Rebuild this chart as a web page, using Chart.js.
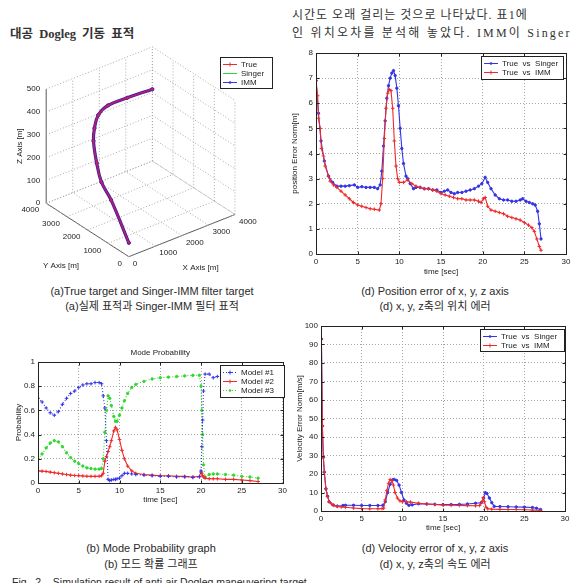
<!DOCTYPE html>
<html>
<head>
<meta charset="utf-8">
<script src="https://cdn.jsdelivr.net/npm/chart.js@4.4.1/dist/chart.umd.min.js"></script>
<style>
html, body { margin: 0; padding: 0; background: #fff; }
#page { position: relative; width: 574px; height: 583px; overflow: hidden; color: #222; }
#page canvas { position: absolute; }
.body { position: absolute; white-space: nowrap; font-family: "Liberation Serif", "Noto Sans CJK KR", serif; font-size: 12px; line-height: 14px; letter-spacing: 1px; color: #333; }
.cap { position: absolute; width: 300px; text-align: center; white-space: nowrap; font-family: "Liberation Sans", Arial, "Noto Sans CJK KR", sans-serif; font-size: 11px; line-height: 13px; color: #2a2a2a; }
</style>
</head>
<body>
<div id="page">
  <div class="body" style="left:292px;top:8px;">시간도 오래 걸리는 것으로 나타났다. 표1에</div>
  <div class="body" style="left:292px;top:26px;letter-spacing:2.2px;">인 위치오차를 분석해 놓았다. IMM이 Singer</div>
  <div class="body" style="left:10px;top:27px;letter-spacing:0;word-spacing:3px;font-weight:bold;font-size:12.5px;">대공 Dogleg 기동 표적</div>

  <canvas id="c3d"></canvas>
  <canvas id="cPos"></canvas>
  <canvas id="cMode"></canvas>
  <canvas id="cVel"></canvas>

  <div class="cap" style="left:2px;top:285px;">(a)True target and Singer-IMM filter target</div>
  <div class="cap" style="left:2px;top:300px;">(a)실제 표적과 Singer-IMM 필터 표적</div>
  <div class="cap" style="left:285px;top:285px;">(d) Position error of x, y, z axis</div>
  <div class="cap" style="left:285px;top:300px;">(d) x, y, z축의 위치 에러</div>
  <div class="cap" style="left:1px;top:542px;">(b) Mode Probability graph</div>
  <div class="cap" style="left:1px;top:558px;">(b) 모드 확률 그래프</div>
  <div class="cap" style="left:285px;top:542px;">(d) Velocity error of x, y, z axis</div>
  <div class="cap" style="left:285px;top:558px;">(d) x, y, z축의 속도 에러</div>
  <div class="cap" style="left:12px;top:576px;width:auto;text-align:left;font-size:10.5px;">Fig.&nbsp; 2.&nbsp;&nbsp; Simulation result of anti-air Dogleg maneuvering target</div>
</div>

<script>
// ---- data ----

// (a) 3D trajectory [m]; True, Singer and IMM lie on top of each other
const trajX = [500, 500, 500, 500, 500, 573, 718, 1082, 1809, 2755];
const trajY = [642, 1498, 1965, 2199, 2353, 2400, 2400, 2400, 2400, 2400];
const trajZ = [0, 137, 188, 259, 346, 396, 447, 472, 472, 466];
const ticks3dX = [0, 1000, 2000, 3000, 4000];
const ticks3dY = [0, 1000, 2000, 3000, 4000];
const ticks3dZ = [0, 100, 200, 300, 400, 500];

// (d) position error norm [m]
const posSingerT = [0, 0.3, 0.6, 1.0, 1.5, 2.0, 2.5, 3.0, 3.5, 4.0, 4.6, 5.0, 5.5, 6.0, 6.5, 7.0, 7.4,
  7.7, 7.9, 8.1, 8.3, 8.5, 8.7, 8.9, 9.1, 9.3, 9.5, 9.7, 9.9, 10.1, 10.3, 10.5, 10.8, 11.0, 11.3, 11.7, 12.0,
  12.5, 13.0, 13.5, 14.0, 14.5, 15.0, 15.4, 15.8, 16.2, 16.6, 17.0, 17.5, 18.0, 18.5, 19.0, 19.5, 19.9, 20.3,
  20.6, 21.0, 21.5, 22.0, 22.5, 23.0, 23.5, 24.0, 24.5, 24.8, 25.2, 25.6, 26.0, 26.3, 26.6, 26.8, 27.0];
const posSinger = [6.9, 5.6, 4.5, 3.7, 3.1, 2.85, 2.7, 2.7, 2.7, 2.72, 2.75, 2.65, 2.68, 2.65, 2.65, 2.65, 2.6,
  2.75, 3.3, 4.3, 5.3, 6.2, 6.7, 7.0, 7.2, 7.3, 7.1, 6.6, 5.9, 5.0, 4.2, 3.6, 3.1, 3.0, 2.8, 2.6, 2.65,
  2.65, 2.6, 2.6, 2.55, 2.55, 2.45, 2.5, 2.55, 2.45, 2.4, 2.45, 2.45, 2.5, 2.55, 2.6, 2.7, 2.8, 3.05,
  2.85, 2.6, 2.35, 2.2, 2.15, 2.15, 2.1, 2.1, 2.15, 2.2, 2.1, 2.05, 2.0, 1.95, 1.7, 1.2, 0.6];
const posImmT = [0, 0.2, 0.3, 0.5, 0.65, 0.9, 1.1, 1.5, 1.7, 2.1, 2.5, 3.0, 3.5, 4.0, 4.5, 5.0, 5.5, 6.0, 6.5,
  7.0, 7.6, 7.8, 8.0, 8.2, 8.4, 8.6, 8.8, 9.0, 9.2, 9.4, 9.6, 9.8, 10.0, 10.5, 11.0, 11.5, 12.0, 12.5, 13.0,
  13.5, 14.0, 14.5, 15.0, 15.5, 16.0, 16.5, 17.0, 17.5, 18.0, 18.5, 19.0, 19.5, 19.8, 20.1, 20.3, 20.6, 21.0,
  21.5, 22.0, 22.5, 23.0, 23.5, 24.0, 24.5, 25.0, 25.5, 25.9, 26.2, 26.5, 26.8, 27.0];
const posImm = [6.9, 6.3, 5.4, 5.0, 4.2, 3.9, 3.5, 3.1, 2.9, 2.75, 2.65, 2.5, 2.35, 2.2, 2.05, 1.95, 1.9, 1.85, 1.8,
  1.78, 1.75, 2.0, 3.0, 4.6, 5.8, 6.4, 6.55, 6.5, 5.8, 4.5, 3.5, 3.0, 2.85, 2.85, 2.95, 2.8, 2.7, 2.65, 2.6,
  2.6, 2.55, 2.5, 2.4, 2.35, 2.3, 2.25, 2.2, 2.2, 2.15, 2.15, 2.15, 2.1, 2.05, 2.2, 2.25, 1.9, 1.75,
  1.7, 1.65, 1.6, 1.5, 1.45, 1.4, 1.35, 1.25, 1.15, 1.05, 0.9, 0.6, 0.3, 0.15];

// (b) mode probability
const modeT = [0, 0.5, 1, 1.5, 2, 2.5, 3, 3.5, 4, 4.5, 5, 5.5, 6, 6.5, 7, 7.5,
  7.8, 8.0, 8.2, 8.4, 8.6, 8.8, 9.0, 9.3, 9.5, 9.7, 10.0, 10.3, 10.6, 11.0, 11.5, 12,
  13, 14, 15, 16, 17, 18, 19, 19.8, 20.0, 20.1, 20.2, 20.3, 20.5, 21, 21.5, 22, 23, 24, 25, 26, 27];
const model1 = [0.70, 0.67, 0.62, 0.58, 0.56, 0.59, 0.65, 0.70, 0.74, 0.76, 0.79, 0.81, 0.82, 0.82, 0.83, 0.83,
  0.82, 0.72, 0.62, 0.35, 0.03, 0.02, 0.025, 0.03, 0.03, 0.035, 0.04, 0.06, 0.08, 0.08, 0.075, 0.07,
  0.065, 0.06, 0.055, 0.055, 0.05, 0.05, 0.045, 0.05, 0.1, 0.3, 0.52, 0.76, 0.9, 0.9, 0.87, 0.88, 0.89, 0.9, 0.9, 0.9, 0.9];
const model2 = [0.10, 0.098, 0.095, 0.09, 0.085, 0.08, 0.075, 0.07, 0.065, 0.062, 0.06, 0.058, 0.056, 0.055, 0.055, 0.056,
  0.06, 0.08, 0.18, 0.22, 0.26, 0.3, 0.35, 0.43, 0.46, 0.44, 0.36, 0.27, 0.2, 0.14, 0.1, 0.08,
  0.07, 0.065, 0.06, 0.06, 0.055, 0.055, 0.05, 0.055, 0.09, 0.08, 0.06, 0.05, 0.04, 0.035, 0.035, 0.035, 0.03, 0.03, 0.025, 0.02, 0.012];
const model3 = [0.20, 0.24, 0.29, 0.33, 0.35, 0.34, 0.30, 0.25, 0.21, 0.18, 0.16, 0.14, 0.125, 0.12, 0.115, 0.115,
  0.12, 0.2, 0.42, 0.6, 0.72, 0.70, 0.64, 0.55, 0.51, 0.51, 0.56, 0.62, 0.68, 0.74, 0.79, 0.815,
  0.84, 0.86, 0.87, 0.875, 0.88, 0.885, 0.89, 0.89, 0.8, 0.6, 0.4, 0.15, 0.05, 0.07, 0.075, 0.075, 0.07, 0.065, 0.055, 0.05, 0.04];

// (d) velocity error norm [m/s]
const velSingerT = [0.05, 0.17, 0.29, 0.41, 0.6, 0.8, 1.0, 1.5, 2.0, 2.7, 3, 4, 5, 6, 7, 7.6, 7.9, 8.2, 8.5, 8.8,
  9.0, 9.3, 9.6, 9.9, 10.2, 10.5, 10.8, 11.2, 12, 13, 14, 15, 16, 17, 18, 19, 19.7, 20.0, 20.2, 20.4,
  20.7, 21.0, 21.3, 22, 23, 24, 25, 26, 26.5, 27];
const velSinger = [93, 46, 29, 21, 12, 8, 5, 3.2, 2.6, 3.0, 3.1, 3.1, 3.0, 3.0, 3.0, 3.1, 5, 10, 14.5, 16.8,
  17.1, 16.5, 14, 10, 6, 4.2, 3.1, 3.3, 3.9, 3.8, 3.6, 3.5, 3.5, 3.6, 3.8, 4.2, 4.5, 7, 9.9, 9.5,
  7, 4.5, 2.5, 2.4, 2.3, 2.2, 2.1, 1.9, 1.5, 0.8];
const velImmT = [0.05, 0.17, 0.29, 0.41, 0.6, 0.8, 1.0, 1.3, 1.6, 2.0, 2.5, 3, 4, 5, 6, 7, 7.5, 7.7, 7.9,
  8.1, 8.3, 8.5, 8.7, 8.9, 9.1, 9.4, 9.7, 10.0, 10.5, 11, 12, 13, 14, 15, 16, 17, 18, 19, 19.5,
  19.8, 19.95, 20.1, 20.3, 20.5, 21, 22, 23, 24, 25, 26, 27];
const velImm = [93, 46, 29, 21, 12, 8, 5, 3.8, 3, 2.5, 2.2, 2.0, 1.6, 1.3, 1.2, 1.2, 1.3, 1.5, 6,
  11, 15, 17, 16.5, 14, 10, 7, 5.5, 5, 5, 4.8, 4.2, 3.8, 3.5, 3.2, 3.1, 3.0, 2.9, 2.8, 3.0,
  5, 7.2, 5, 2, 1.2, 1.0, 0.9, 0.8, 0.8, 0.7, 0.5, 0.3];

const timeTicks = [0, 5, 10, 15, 20, 25, 30];
const posTicks = [0, 1, 2, 3, 4, 5, 6, 7, 8];
const probTicks = [0, 0.2, 0.4, 0.6, 0.8, 1];
const velTicks = [0, 10, 20, 30, 40, 50, 60, 70, 80, 90, 100];

// ---- styling ----
const FONT = '"Liberation Sans", Arial, sans-serif';
const INK = '#222';
const GRID = '#a4a4a4';
const BLUE = '#3434e6', RED = '#ee2b2b', GREEN = '#2fd62f';

function pts(xs, ys) { return xs.map(function(x, i) { return { x: x, y: ys[i] }; }); }

function marker(ctx, kind, x, y, color) {
    ctx.save();
    ctx.strokeStyle = color; ctx.fillStyle = color; ctx.lineWidth = 1;
    if (kind === 'plus') {
        ctx.beginPath(); ctx.moveTo(x - 2, y); ctx.lineTo(x + 2, y); ctx.moveTo(x, y - 2); ctx.lineTo(x, y + 2); ctx.stroke();
    } else if (kind === 'dot') {
        ctx.beginPath(); ctx.arc(x, y, 1.3, 0, Math.PI * 2); ctx.fill();
    }
    ctx.restore();
}

// MATLAB-like axes box, inward ticks and boxed legend
const mbox = {
    id: 'mbox',
    afterDraw(chart, args, o) {
        const ctx = chart.ctx;
        if (o.frame) {
            const a = chart.chartArea;
            const l = Math.round(a.left) + 0.5, t = Math.round(a.top) + 0.5, r = Math.round(a.right) + 0.5, b = Math.round(a.bottom) + 0.5;
            ctx.save();
            ctx.strokeStyle = INK; ctx.lineWidth = 1;
            ctx.strokeRect(l, t, r - l, b - t);
            ctx.beginPath();
            chart.scales.x.ticks.forEach(function(tk) {
                const px = Math.round(chart.scales.x.getPixelForValue(tk.value)) + 0.5;
                ctx.moveTo(px, b); ctx.lineTo(px, b - 3); ctx.moveTo(px, t); ctx.lineTo(px, t + 3);
            });
            chart.scales.y.ticks.forEach(function(tk) {
                const py = Math.round(chart.scales.y.getPixelForValue(tk.value)) + 0.5;
                ctx.moveTo(l, py); ctx.lineTo(l + 3, py); ctx.moveTo(r, py); ctx.lineTo(r - 3, py);
            });
            ctx.stroke();
            ctx.restore();
        }
        if (o.legend) {
            const L = o.legend;
            ctx.save();
            ctx.fillStyle = '#fff'; ctx.fillRect(L.x, L.y, L.w, L.h);
            ctx.strokeStyle = INK; ctx.lineWidth = 1;
            ctx.strokeRect(L.x + 0.5, L.y + 0.5, L.w, L.h);
            const rowH = (L.h - 4) / L.rows.length;
            ctx.font = '8px ' + FONT; ctx.textBaseline = 'middle'; ctx.fillStyle = INK;
            L.rows.forEach(function(row, i) {
                const y = Math.round(L.y + 2 + rowH * (i + 0.5)) + 0.5;
                ctx.save();
                ctx.strokeStyle = row.color; ctx.setLineDash(row.dash || []);
                ctx.beginPath(); ctx.moveTo(L.x + 3, y); ctx.lineTo(L.x + 17, y); ctx.stroke();
                ctx.restore();
                marker(ctx, row.marker, L.x + 10, y, row.color);
                ctx.fillStyle = INK;
                ctx.fillText(row.text, L.x + 21, y);
            });
            ctx.restore();
        }
    }
};

function plotChart(id, g, datasets, xt, yt, xTitle, yTitle, yFmt, legend, title) {
    const cv = document.getElementById(id);
    cv.width = g.cw; cv.height = g.ch;
    cv.style.left = g.cx + 'px'; cv.style.top = g.cy + 'px';
    const titleH = title ? 16.6 : 0;
    const tickFont = { family: FONT, size: 8 };
    return new Chart(cv, {
        type: 'scatter',
        data: { datasets: datasets },
        options: {
            responsive: false, animation: false, events: [],
            layout: { padding: { left: 0, bottom: 0, top: g.T - g.cy - titleH, right: g.cx + g.cw - g.R } },
            plugins: {
                legend: { display: false }, tooltip: { enabled: false },
                title: title ? { display: true, text: title, fullSize: false, color: INK, font: { family: FONT, size: 8, weight: 'normal' }, padding: { top: 3, bottom: 4 } } : { display: false },
                mbox: { frame: true, legend: legend }
            },
            scales: {
                x: {
                    type: 'linear', min: xt[0], max: xt[xt.length - 1],
                    afterBuildTicks: function(s) { s.ticks = xt.map(function(v) { return { value: v }; }); },
                    afterFit: function(s) { s.height = g.cy + g.ch - g.B; },
                    grid: { color: GRID, drawTicks: false }, border: { display: false, dash: [1, 2] },
                    ticks: { color: INK, font: tickFont, padding: 3, maxRotation: 0, autoSkip: false },
                    title: { display: true, text: xTitle, color: INK, font: tickFont, padding: { top: 0, bottom: g.xtPad } }
                },
                y: {
                    type: 'linear', min: yt[0], max: yt[yt.length - 1],
                    afterBuildTicks: function(s) { s.ticks = yt.map(function(v) { return { value: v }; }); },
                    afterFit: function(s) { s.width = g.L - g.cx; },
                    grid: { color: GRID, drawTicks: false }, border: { display: false, dash: [1, 2] },
                    ticks: { color: INK, font: tickFont, padding: 3, autoSkip: false, callback: yFmt },
                    title: { display: true, text: yTitle, color: INK, font: tickFont, padding: { top: g.ytPad, bottom: 0 } }
                }
            }
        },
        plugins: [mbox]
    });
}

function series(label, xs, ys, color, kind, extra) {
    return Object.assign({
        label: label, data: pts(xs, ys), showLine: true,
        borderColor: color, backgroundColor: color, borderWidth: 1.1,
        pointStyle: kind === 'plus' ? 'cross' : 'circle',
        pointRadius: kind === 'plus' ? 1.8 : 1.2, pointBorderWidth: 1, pointHoverRadius: 0
    }, extra || {});
}

const num = function(v) { return String(Math.round(v * 10) / 10); };

// ---- (d) position error ----
plotChart('cPos', { cx: 287, cy: 40, cw: 287, ch: 242, L: 316, T: 53, R: 566, B: 254, xtPad: 5.2, ytPad: 2.5 },
    [series('True  vs  IMM', posImmT, posImm, RED, 'plus', { order: 0 }),
     series('True  vs  Singer', posSingerT, posSinger, BLUE, 'dot', { order: 1 })],
    timeTicks, posTicks, 'time [sec]', 'position Error Norm[m]', num,
    { x: 194, y: 16, w: 82, h: 23, rows: [
        { text: 'True  vs  Singer', color: BLUE, marker: 'dot' },
        { text: 'True  vs  IMM', color: RED, marker: 'plus' }] });

// ---- (b) mode probability ----
plotChart('cMode', { cx: 0, cy: 345, cw: 290, ch: 163, L: 38, T: 362, R: 283, B: 483, xtPad: 3.9, ytPad: 13.5 },
    [series('Model #2', modeT, model2, RED, 'plus', { order: 1 }),
     series('Model #1', modeT, model1, BLUE, 'plus', { order: 0, borderDash: [1, 2] }),
     series('Model #3', modeT, model3, GREEN, 'dot', { order: 2, borderDash: [1, 2] })],
    timeTicks, probTicks, 'time [sec]', 'Probability', num,
    { x: 220, y: 20, w: 64, h: 32, rows: [
        { text: 'Model #1', color: BLUE, marker: 'plus', dash: [1, 2] },
        { text: 'Model #2', color: RED, marker: 'plus' },
        { text: 'Model #3', color: GREEN, marker: 'dot', dash: [1, 2] }] },
    'Mode Probability');

// ---- (d) velocity error ----
plotChart('cVel', { cx: 287, cy: 315, cw: 287, ch: 220, L: 321, T: 326, R: 565, B: 511, xtPad: 2.2, ytPad: 8.2 },
    [series('True  vs  IMM', velImmT, velImm, RED, 'plus', { order: 0 }),
     series('True  vs  Singer', velSingerT, velSinger, BLUE, 'dot', { order: 1 })],
    timeTicks, velTicks, 'time [sec]', 'Velocity Error Norm[m/s]', num,
    { x: 193, y: 14, w: 84, h: 22, rows: [
        { text: 'True  vs  Singer', color: BLUE, marker: 'dot' },
        { text: 'True  vs  IMM', color: RED, marker: 'plus' }] });

// ---- (a) 3D trajectory, orthographic view like MATLAB's default ----
const view = { ux: 0.0275, uy: -0.0214, vx: 0.011, vy: 0.013925, vz: 0.238 };
function proj(x, y, z) { return { x: x * view.ux + y * view.uy, y: x * view.vx + y * view.vy + z * view.vz }; }

const g3 = { cx: 0, cy: 40, cw: 287, ch: 245, ox: 128.3, oy: 260.7 };
const xMax3 = ticks3dX[ticks3dX.length - 1], yMax3 = ticks3dY[ticks3dY.length - 1], zMax3 = ticks3dZ[ticks3dZ.length - 1];

const seg3d = [];
ticks3dX.forEach(function(x) { seg3d.push([[x, 0, 0], [x, yMax3, 0]]); seg3d.push([[x, yMax3, 0], [x, yMax3, zMax3]]); });
ticks3dY.forEach(function(y) { seg3d.push([[0, y, 0], [xMax3, y, 0]]); seg3d.push([[xMax3, y, 0], [xMax3, y, zMax3]]); });
ticks3dZ.forEach(function(z) { seg3d.push([[0, yMax3, z], [xMax3, yMax3, z]]); seg3d.push([[xMax3, yMax3, z], [xMax3, 0, z]]); });
const axes3 = [[[0, 0, 0], [xMax3, 0, 0]], [[0, 0, 0], [0, yMax3, 0]], [[0, yMax3, 0], [0, yMax3, zMax3]]];

function segDs(s, color, dash) {
    return { data: s.map(function(p) { return proj(p[0], p[1], p[2]); }), showLine: true, borderColor: color,
        borderWidth: 1, borderDash: dash, pointRadius: 0, order: 10 };
}
function trajDs(color, width, kind, order) {
    return { data: trajX.map(function(x, i) { return proj(x, trajY[i], trajZ[i]); }), showLine: true, tension: 0.4,
        borderColor: color, backgroundColor: color, borderWidth: width, order: order,
        pointStyle: kind === 'plus' ? 'cross' : 'circle', pointRadius: kind ? 1.6 : 0, pointBorderWidth: 1 };
}

const axes3dLabels = {
    id: 'axes3dLabels',
    afterDraw(chart) {
        const ctx = chart.ctx, sx = chart.scales.x, sy = chart.scales.y;
        const P = function(X, Y, Z) { const p = proj(X, Y, Z); return [sx.getPixelForValue(p.x), sy.getPixelForValue(p.y)]; };
        ctx.save();
        ctx.fillStyle = INK; ctx.font = '8px ' + FONT; ctx.textBaseline = 'middle';
        ctx.textAlign = 'right';
        ticks3dZ.forEach(function(z) { const p = P(0, yMax3, z); ctx.fillText(String(z), p[0] - 6, p[1]); });
        ticks3dY.forEach(function(y) { const p = P(0, y, 0); ctx.fillText(String(y), p[0] - 7, p[1] + 7); });
        ctx.textAlign = 'left';
        ticks3dX.forEach(function(x) { const p = P(x, 0, 0); ctx.fillText(String(x), p[0] + 4, p[1] + 7); });
        ctx.textAlign = 'center';
        let p = P(0, yMax3 / 2, 0); ctx.fillText('Y Axis [m]', p[0] - 26.5, p[1] + 36);
        p = P(xMax3 / 2, 0, 0); ctx.fillText('X Axis [m]', p[0] + 18.7, p[1] + 32);
        p = P(0, yMax3, zMax3 / 2);
        ctx.translate(p[0] - 26, p[1]); ctx.rotate(-Math.PI / 2); ctx.fillText('Z Axis [m]', 0, 0);
        ctx.restore();
    }
};

(function() {
    const cv = document.getElementById('c3d');
    cv.width = g3.cw; cv.height = g3.ch;
    cv.style.left = g3.cx + 'px'; cv.style.top = g3.cy + 'px';
    const ds = seg3d.map(function(s) { return segDs(s, '#a8a8a8', [1, 2]); })
        .concat(axes3.map(function(s) { return segDs(s, '#555', []); }))
        .concat([trajDs(GREEN, 1, null, 3), trajDs('#2a1eb4', 3.2, 'dot', 2), trajDs('rgba(232,30,80,0.72)', 1.8, 'plus', 1)]);
    new Chart(cv, {
        type: 'scatter',
        data: { datasets: ds },
        options: {
            responsive: false, animation: false, events: [],
            layout: { padding: 0 },
            plugins: { legend: { display: false }, tooltip: { enabled: false },
                mbox: { frame: false, legend: { x: 220, y: 17, w: 52, h: 31, rows: [
                    { text: 'True', color: RED, marker: 'plus' },
                    { text: 'Singer', color: GREEN, marker: 'none' },
                    { text: 'IMM', color: BLUE, marker: 'dot' }] } } },
            scales: {
                x: { type: 'linear', display: false, min: g3.cx - g3.ox, max: g3.cx + g3.cw - g3.ox },
                y: { type: 'linear', display: false, min: g3.oy - (g3.cy + g3.ch), max: g3.oy - g3.cy }
            }
        },
        plugins: [mbox, axes3dLabels]
    });
})();
</script>
</body>
</html>
